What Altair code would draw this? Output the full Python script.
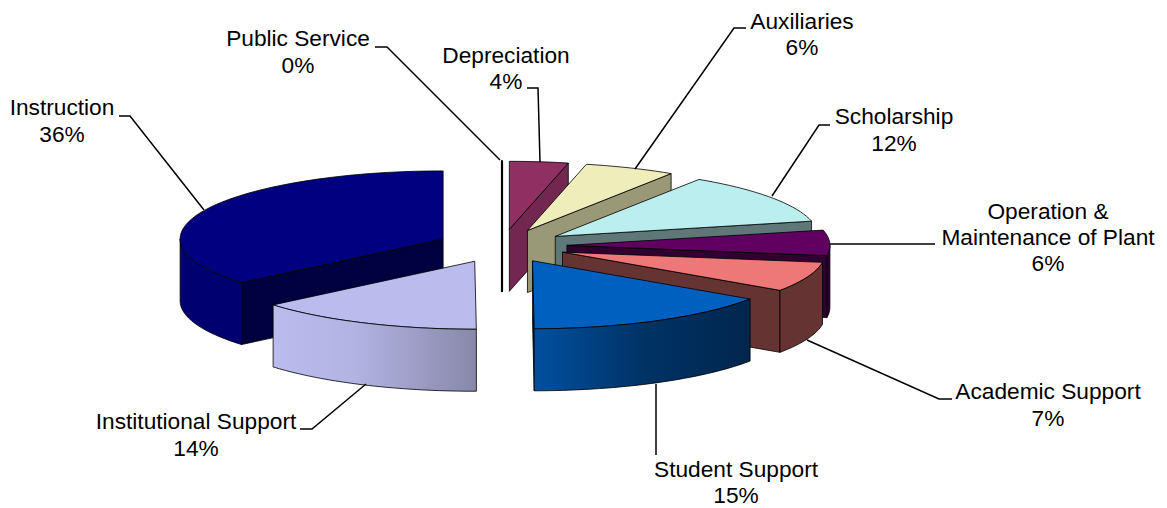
import math
import altair as alt

# ---- data ----
categories = ["Public Service", "Depreciation", "Auxiliaries", "Scholarship",
              "Operation & Maintenance of Plant", "Academic Support",
              "Student Support", "Institutional Support", "Instruction"]
shares = [0, 3.6, 5.6, 12.2, 6.0, 7.1, 15.4, 14.0, 36.1]
top_colors = ["#000000", "#8F2F62", "#EEEEBB", "#BBEEEE", "#600060", "#EE7777",
              "#0060C0", "#BBBBEE", "#000080"]
wall_colors = ["#000000", "#722650", "#999977", "#5F7777", "#300030", "#663333",
               "#00264D", "#8888AA", "#000040"]
rim_colors = ["#000000", "#722650", "#999977", "#5F7777", "#300030", "#663333",
              None, None, "#000070"]
draw_order = [0, 1, 2, 3, 4, 5, 8, 7, 6]

label_rows = [
    ("Public Service", 298, 39), ("0%", 298, 66),
    ("Depreciation", 506, 56), ("4%", 506, 82),
    ("Auxiliaries", 802, 22), ("6%", 802, 48),
    ("Scholarship", 894, 117), ("12%", 894, 144),
    ("Operation &", 1048, 212), ("Maintenance of Plant", 1048, 238), ("6%", 1048, 264),
    ("Academic Support", 1048, 392), ("7%", 1048, 419),
    ("Student Support", 736, 470), ("15%", 736, 496),
    ("Institutional Support", 196, 422), ("14%", 196, 449),
    ("Instruction", 62, 108), ("36%", 62, 135),
]
leaders = {
    "Public Service": [(375, 47), (387, 47), (500, 160)],
    "Depreciation": [(527, 88), (538, 88), (540, 162)],
    "Auxiliaries": [(746, 28), (734, 28), (635, 169)],
    "Scholarship": [(830, 125), (819, 125), (772, 196)],
    "Operation": [(935, 244), (830, 244)],
    "Academic Support": [(952, 399), (939, 399), (807, 340)],
    "Student Support": [(656, 455), (656, 384)],
    "Institutional Support": [(300, 429), (312, 429), (366, 384)],
    "Instruction": [(119, 116), (130, 116), (204, 210)],
}

# ---- pie geometry ----
MARGIN = 8
CX, CY = 502, 246
RX, RY = 263, 68
DEPTH = 62
EXPLODE = 0.247


def pt(cx, cy, deg, drop=0):
    r = math.radians(deg)
    return [cx + RX * math.sin(r) - MARGIN, cy - RY * math.cos(r) + drop - MARGIN]


def feature(ring, fill, name, width=0.8):
    ring = ring + [ring[0]]
    return {"type": "Feature",
            "geometry": {"type": "Polygon", "coordinates": [ring]},
            "properties": {"fill": fill, "name": name, "w": width}}


def frange(a, b, step=2.0):
    n = max(1, int(abs(b - a) / step))
    return [a + (b - a) * i / n for i in range(n + 1)]


bounds = []
acc = 0.0
for s in shares:
    a0 = acc * 3.6
    acc += s
    bounds.append((a0, acc * 3.6))


def pieces(i):
    a0, a1 = bounds[i]
    mid = (a0 + a1) / 2
    m = math.radians(mid)
    ax = CX + EXPLODE * RX * math.sin(m)
    ay = CY - EXPLODE * RY * math.cos(m)
    apex = [ax - MARGIN, ay - MARGIN]
    apex_low = [ax - MARGIN, ay - MARGIN + DEPTH]
    name = categories[i]
    walls, rims, tops = [], [], []
    if a0 == a1:
        walls.append(feature([pt(ax, ay, a0), apex, apex_low, pt(ax, ay, a0, DEPTH)],
                             wall_colors[i], name, 2.2))
        return walls, rims, tops
    if 0 < a1 < 180:
        walls.append(feature([apex, pt(ax, ay, a1), pt(ax, ay, a1, DEPTH), apex_low],
                             wall_colors[i], name))
    if 180 < a0 < 360:
        walls.append(feature([apex, pt(ax, ay, a0), pt(ax, ay, a0, DEPTH), apex_low],
                             wall_colors[i], name))
    lo, hi = max(a0, 90), min(a1, 270)
    if lo < hi:
        arc = frange(lo, hi)
        rims.append(feature([pt(ax, ay, d) for d in arc]
                            + [pt(ax, ay, d, DEPTH) for d in reversed(arc)],
                            rim_colors[i], name))
    tops.append(feature([apex] + [pt(ax, ay, d) for d in frange(a0, a1)],
                        top_colors[i], name))
    return walls, rims, tops


solid = []
gradient_rims = {}
for i in draw_order:
    w, r, t = pieces(i)
    solid += w
    if rim_colors[i] is None:
        gradient_rims[categories[i]] = r
    else:
        solid += r
    solid += t

PROJ = dict(type="identity", scale=1, translate=[0, 0])

solid_layer = alt.Chart(alt.Data(values=solid)).mark_geoshape(
    stroke="#000000", strokeJoin="round"
).encode(
    fill=alt.Fill("properties.fill:N", scale=None),
    strokeWidth=alt.StrokeWidth("properties.w:Q", scale=None),
).project(**PROJ)


def grad(stops):
    return alt.Gradient(gradient="linear", x1=0, x2=1, y1=0, y2=0,
                        stops=[alt.GradientStop(offset=o, color=c) for o, c in stops])


student_wall = alt.Chart(alt.Data(values=gradient_rims["Student Support"])).mark_geoshape(
    stroke="#000000", strokeWidth=0.8,
    fill=grad([(0, "#00509F"), (0.5, "#003366"), (1, "#00264D")]),
).project(**PROJ)

institutional_wall = alt.Chart(alt.Data(values=gradient_rims["Institutional Support"])).mark_geoshape(
    stroke="#000000", strokeWidth=0.8,
    fill=grad([(0, "#BBBBEE"), (0.4, "#B3B3E3"), (1, "#8888AA")]),
).project(**PROJ)

leader_rows = []
for key, path in leaders.items():
    for n, (x, y) in enumerate(path):
        leader_rows.append({"key": key, "n": n, "x": x - MARGIN, "y": y - MARGIN})

leader_layer = alt.Chart(alt.Data(values=leader_rows)).mark_line(
    color="#000000", strokeWidth=1.5
).encode(
    x=alt.X("x:Q", scale=None, axis=None),
    y=alt.Y("y:Q", scale=None, axis=None),
    detail="key:N",
    order="n:Q",
)

text_rows = [{"t": t, "x": x - MARGIN, "y": y - MARGIN} for t, x, y in label_rows]
text_layer = alt.Chart(alt.Data(values=text_rows)).mark_text(
    font="Liberation Sans", fontSize=22.7, color="#000000", align="center", baseline="middle"
).encode(
    x=alt.X("x:Q", scale=None, axis=None),
    y=alt.Y("y:Q", scale=None, axis=None),
    text="t:N",
)

chart = alt.layer(
    solid_layer, institutional_wall, student_wall, leader_layer, text_layer
).properties(
    width=1151, height=500, padding=0,
    autosize=alt.AutoSizeParams(type="none"),
    background="#FFFFFF",
).configure_view(stroke=None)

chart.save("out.html", embed_options={"renderer": "svg", "actions": False})
